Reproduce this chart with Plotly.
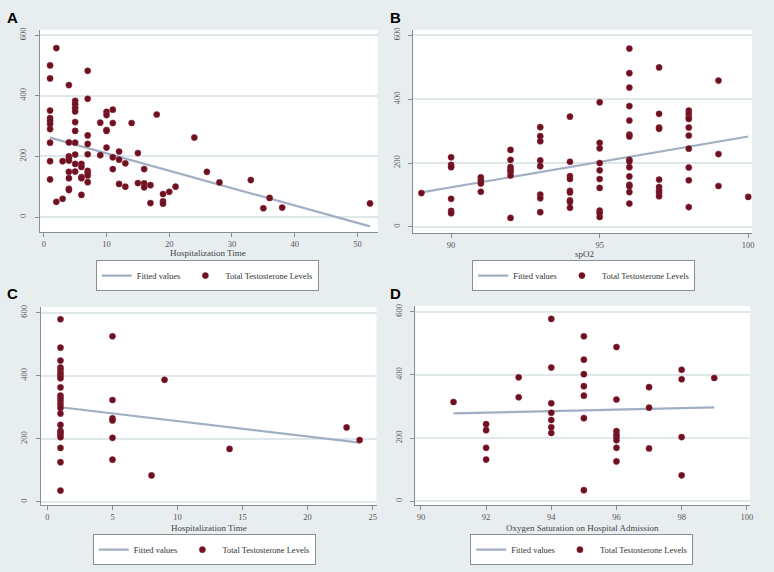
import plotly.graph_objects as go

# ---------------- Data ----------------
# Panel A: Hospitalization Time vs Total Testosterone Levels
a_x = [1]*10 + [2]*2 + [3]*2 + [4]*9 + [5]*10 + [6]*5 + [7]*9 + [9]*2 + [10]*5 + [11]*4 + [12]*3 + [13]*2 + [14] + [15]*2 + [16]*3 + [17]*2 + [18] + [19]*3 + [20] + [21] + [24] + [26] + [28] + [33] + [35] + [36] + [38] + [52]
a_y = [500, 457, 351, 326, 317, 307, 290, 245, 184, 124,
       557, 50,
       60, 184,
       435, 246, 200, 193, 186, 149, 128, 93, 89,
       383, 372, 359, 348, 313, 284, 245, 206, 175, 150,
       175, 165, 132, 128, 73,
       482, 390, 269, 241, 207, 152, 145, 137, 115,
       311, 204,
       347, 336, 287, 284, 229,
       354, 310, 197, 158,
       216, 189, 109,
       177, 100,
       310,
       211, 112,
       158, 111, 98,
       105, 46,
       338,
       76, 52, 44,
       83, 100, 262, 149, 114, 122, 29, 63, 31, 45]
a_fit_x = [1, 52]
a_fit_y = [262, -31]

# Panel B: spO2 vs Total Testosterone Levels
b_x = [89] + [90]*6 + [91]*4 + [92]*7 + [93]*8 + [94]*9 + [95]*10 + [96]*15 + [97]*9 + [98]*10 + [99]*3 + [100]
b_y = [106,
       218, 194, 187, 88, 50, 43,
       155, 146, 136, 110,
       241, 210, 187, 179, 173, 161, 28,
       312, 284, 268, 208, 190, 101, 90, 46,
       345, 204, 159, 150, 113, 108, 83, 78, 60,
       390, 263, 246, 200, 177, 150, 122, 51, 43, 31,
       558, 481, 436, 378, 333, 289, 283, 210, 205, 187, 158, 132, 127, 109, 73,
       499, 354, 311, 307, 148, 125, 114, 106, 96,
       364, 354, 344, 338, 311, 286, 245, 186, 146, 62,
       458, 228, 128,
       94]
b_fit_x = [89, 100]
b_fit_y = [108, 283]

# Panel C: Hospitalization Time vs Total Testosterone Levels
c_x = [1]*23 + [5]*6 + [8] + [9] + [14] + [23] + [24]
c_y = [579, 489, 448, 426, 418, 408, 400, 392, 363, 337, 328, 318, 308, 298, 280, 244, 225, 220, 213, 205, 171, 126, 36,
       525, 323, 265, 258, 203, 134,
       84, 387, 168, 236, 196]
c_fit_x = [1, 24]
c_fit_y = [300, 188]

# Panel D: Oxygen Saturation on Hospital Admission vs Total Testosterone Levels
d_x = [91] + [92]*4 + [93]*2 + [94]*7 + [95]*7 + [96]*8 + [97]*3 + [98]*4 + [99]
d_y = [314,
       244, 225, 169, 132,
       392, 329,
       577, 423, 310, 280, 257, 234, 216,
       522, 448, 402, 364, 334, 263, 35,
       488, 322, 222, 211, 203, 193, 169, 126,
       361, 296, 167,
       416, 386, 203, 82,
       390]
d_fit_x = [91, 99]
d_fit_y = [278, 297]

y_ticks = [0, 200, 400, 600]
a_xticks = [0, 10, 20, 30, 40, 50]
b_xticks = [90, 95, 100]
c_xticks = [0, 5, 10, 15, 20, 25]
d_xticks = [90, 92, 94, 96, 98, 100]

x_titles = ["Hospitalization Time", "spO2", "Hospitalization Time",
            "Oxygen Saturation on Hospital Admission"]
panel_letters = ["A", "B", "C", "D"]
fit_name = "Fitted values"
pts_name = "Total Testosterone Levels"

# ---------------- Styling ----------------
W, H = 774, 572
BG = "#e8eef0"
GRID = "#e0e8ec"
MARK = "#6e1020"
FIT = "#a2afc3"
SERIF = "Liberation Serif, Times New Roman, serif"

# pixel boxes (left, top, right, bottom) of each plot region
boxes = [(40, 28, 379, 231), (415, 28, 755, 232), (41, 306, 378, 505), (417, 305, 753, 505)]
x_ranges = [[-0.63, 53.2], [88.73, 100.13], [-0.51, 25.3], [89.83, 100.1]]
y_ranges = [[-50, 617], [-19.6, 616.5], [-10.5, 618], [-12.6, 618]]
xticks_all = [a_xticks, b_xticks, c_xticks, d_xticks]
data = [(a_x, a_y, a_fit_x, a_fit_y), (b_x, b_y, b_fit_x, b_fit_y),
        (c_x, c_y, c_fit_x, c_fit_y), (d_x, d_y, d_fit_x, d_fit_y)]
legend_pos = [(208, 259), (586, 259), (205, 534), (584, 534)]
title_pos = [(209, 252), (587, 253), (210, 528), (585, 528)]
letter_pos = [(5, 5), (390, 5), (5, 282), (390, 282)]

fig = go.Figure()
layout = dict(width=W, height=H, margin=dict(l=0, r=0, t=0, b=0),
              paper_bgcolor=BG, plot_bgcolor="white", showlegend=True,
              annotations=[])

for i in range(4):
    sfx = "" if i == 0 else str(i + 1)
    xa, ya = "x" + sfx, "y" + sfx
    lg = "legend" + sfx
    xs, ys, fx, fy = data[i]
    fig.add_trace(go.Scatter(x=fx, y=fy, mode="lines", name=fit_name,
                             line=dict(color=FIT, width=2.2),
                             xaxis=xa, yaxis=ya, legend=lg))
    fig.add_trace(go.Scatter(x=xs, y=ys, mode="markers", name=pts_name,
                             marker=dict(color=MARK, size=6.2,
                                         line=dict(color="#8a3040", width=0.5)),
                             xaxis=xa, yaxis=ya, legend=lg))
    l, t, r, b = boxes[i]
    layout["xaxis" + sfx] = dict(
        domain=[l / W, r / W], range=x_ranges[i], anchor=ya,
        tickvals=xticks_all[i], showgrid=False, zeroline=False,
        showline=True, linecolor="#8a8f94", linewidth=1,
        ticks="outside", ticklen=4, tickcolor="#8a8f94",
        tickfont=dict(family=SERIF, size=8.5, color="#555"))
    layout["yaxis" + sfx] = dict(
        domain=[1 - b / H, 1 - t / H], range=y_ranges[i], anchor=xa,
        tickvals=y_ticks, tickangle=-90, showgrid=True, gridcolor=GRID,
        gridwidth=1.5, zeroline=False, ticklabelstandoff=5,
        showline=True, linecolor="#8a8f94", linewidth=1,
        ticks="outside", ticklen=4, tickcolor="#8a8f94",
        tickfont=dict(family=SERIF, size=8.5, color="#555"))
    lx, ly = legend_pos[i]
    layout[lg] = dict(x=lx / W, y=1 - ly / H, xanchor="center", yanchor="top",
                      orientation="h", bgcolor="white", bordercolor="#8a8f94",
                      borderwidth=1, font=dict(family=SERIF, size=8.5, color="#333"),
                      itemwidth=30, tracegroupgap=0)
    tx, ty = title_pos[i]
    layout["annotations"].append(dict(
        text=x_titles[i], x=tx / W, y=1 - ty / H, xref="paper", yref="paper",
        xanchor="center", yanchor="middle", showarrow=False,
        font=dict(family=SERIF, size=9, color="#444")))
    px, py = letter_pos[i]
    layout["annotations"].append(dict(
        text="<b>%s</b>" % panel_letters[i], x=px / W, y=1 - py / H,
        xref="paper", yref="paper", xanchor="left", yanchor="top",
        showarrow=False, font=dict(family="Liberation Sans, Arial", size=15, color="black")))

fig.update_layout(**layout)
fig.write_html(
    "out.html",
    config={"displayModeBar": False},
    post_script="document.body.style.margin='0';document.body.style.overflow='hidden';"
                "document.body.style.background='%s';" % BG)
